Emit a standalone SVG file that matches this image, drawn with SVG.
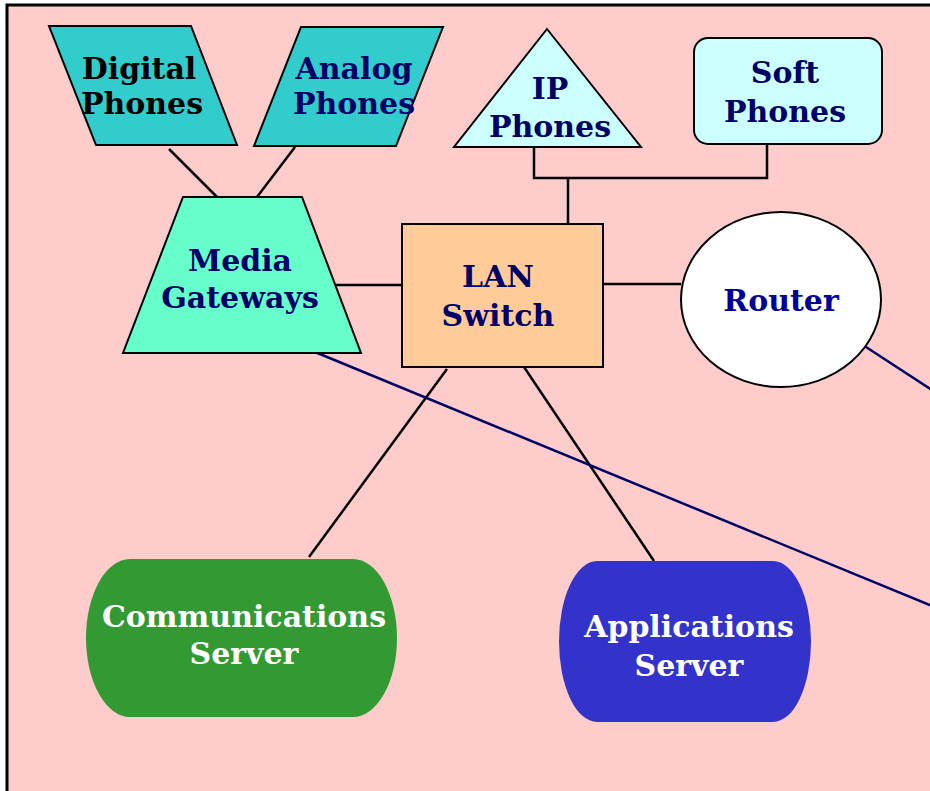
<svg xmlns="http://www.w3.org/2000/svg" width="930" height="791" viewBox="0 0 930 791">
  <style>
    .lbl { font-family: "DejaVu Serif", "Liberation Serif", serif; font-weight: bold; font-size: 30px; text-anchor: middle; }
    .navy { fill: #000066; }
    .shape { stroke: #000000; stroke-width: 2; }
    .wire { stroke: #000000; stroke-width: 2.5; fill: none; }
    .wan { stroke: #000066; stroke-width: 2.5; fill: none; }
  </style>

  <!-- background panel -->
  <rect x="0" y="0" width="930" height="791" fill="#ffffff"/>
  <rect x="7" y="5" width="940" height="800" fill="#ffcccc" stroke="#000000" stroke-width="3"/>

  <!-- connectors -->
  <g id="connectors">
    <line class="wire" x1="169" y1="149" x2="217" y2="197"/>
    <line class="wire" x1="295" y1="147" x2="257" y2="197"/>
    <line class="wire" x1="336" y1="285" x2="402" y2="285"/>
    <line class="wire" x1="603" y1="284" x2="681" y2="284"/>
    <polyline class="wire" points="534,147 534,178 767,178 767,144"/>
    <line class="wire" x1="568" y1="178" x2="568" y2="224"/>
    <line class="wire" x1="447" y1="369" x2="309" y2="557"/>
    <line class="wire" x1="524" y1="367" x2="654" y2="561"/>
    <line class="wan" x1="315" y1="352" x2="932" y2="606"/>
    <line class="wan" x1="866" y1="347" x2="932" y2="390"/>
  </g>

  <g id="digital-phones">
    <polygon class="shape" points="49,26 191,26 237,145 96,145" fill="#33cccc"/>
    <text class="lbl" x="139" y="79" fill="#000000">Digital</text>
    <text class="lbl" x="142" y="114" fill="#000000">Phones</text>
  </g>

  <g id="analog-phones">
    <polygon class="shape" points="301,27 443,27 396,146 254,146" fill="#33cccc"/>
    <text class="lbl navy" x="354" y="79">Analog</text>
    <text class="lbl navy" x="354" y="114">Phones</text>
  </g>

  <g id="ip-phones">
    <polygon class="shape" points="547,29 641,147 454,147" fill="#ccffff"/>
    <text class="lbl navy" x="550" y="99">IP</text>
    <text class="lbl navy" x="550" y="137">Phones</text>
  </g>

  <g id="soft-phones">
    <rect class="shape" x="694" y="38" width="188" height="106" rx="14" fill="#ccffff"/>
    <text class="lbl navy" x="785" y="83">Soft</text>
    <text class="lbl navy" x="785" y="122">Phones</text>
  </g>

  <g id="media-gateways">
    <polygon class="shape" points="183,197 302,197 361,353 123,353" fill="#66ffcc"/>
    <text class="lbl navy" x="240" y="271">Media</text>
    <text class="lbl navy" x="240" y="308">Gateways</text>
  </g>

  <g id="lan-switch">
    <rect class="shape" x="402" y="224" width="201" height="143" fill="#ffcc99"/>
    <text class="lbl navy" x="498" y="287">LAN</text>
    <text class="lbl navy" x="498" y="326">Switch</text>
  </g>

  <g id="router">
    <ellipse class="shape" cx="781" cy="299.5" rx="100" ry="87.5" fill="#ffffff"/>
    <text class="lbl" x="781" y="311" fill="#000099">Router</text>
  </g>

  <g id="communications-server">
    <path d="M130,559 H353 A44,79 0 0 1 353,717 H130 A44,79 0 0 1 130,559 Z" fill="#339933"/>
    <text class="lbl" x="244" y="627" fill="#ffffff">Communications</text>
    <text class="lbl" x="244" y="664" fill="#ffffff">Server</text>
  </g>

  <g id="applications-server">
    <path d="M597,561 H773 A38,80.5 0 0 1 773,722 H597 A38,80.5 0 0 1 597,561 Z" fill="#3333cc"/>
    <text class="lbl" x="689" y="637" fill="#ffffff">Applications</text>
    <text class="lbl" x="689" y="676" fill="#ffffff">Server</text>
  </g>
</svg>
